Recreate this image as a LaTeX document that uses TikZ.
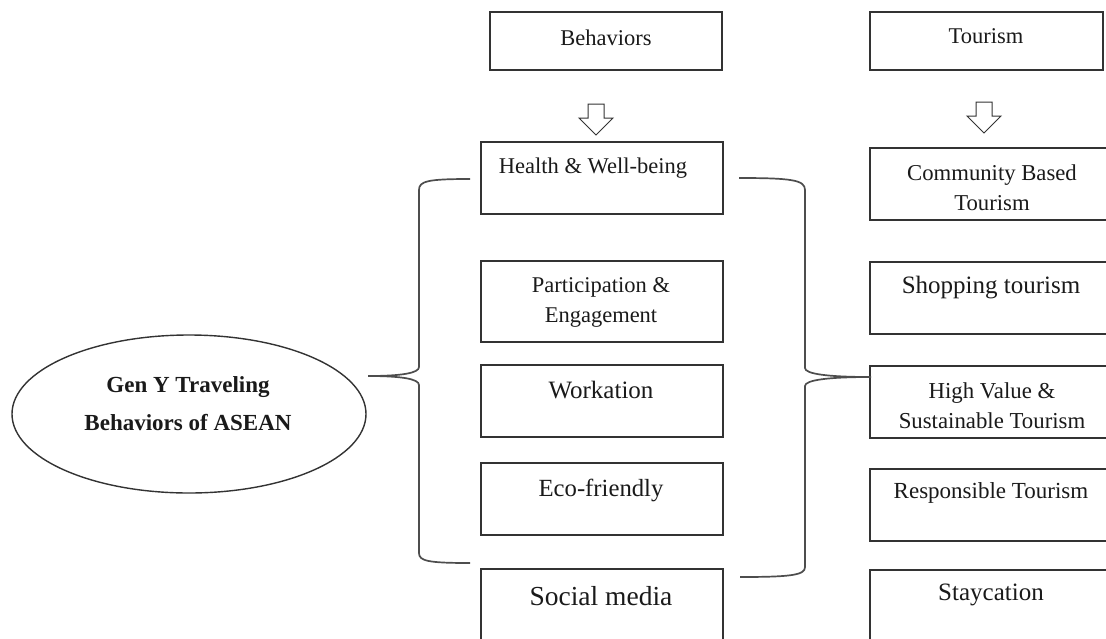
\documentclass[tikz,border=0pt]{standalone}
\usepackage{fontspec}
\setmainfont{Liberation Serif}
\usetikzlibrary{shapes.geometric}
\definecolor{boxcol}{HTML}{333333}
\definecolor{bracecol}{HTML}{4D4D4D}
\definecolor{txtcol}{HTML}{1A1A1A}
\newcommand\fsz[1]{\fontsize{#1}{30}\selectfont}
\begin{document}
\begin{tikzpicture}[x=1pt,y=-1pt,
  box/.style={draw=boxcol,line width=1.5pt,inner sep=0pt,outer sep=0pt,minimum width=242pt,minimum height=72pt},
  lbl/.style={text=txtcol,inner sep=0pt,align=center},
  bracket/.style={draw=bracecol,line width=1.7pt},
  downarrow/.pic={\draw[line width=1pt,draw=boxcol] (-8,0) -- (8,0) -- (8,14) -- (17,14) -- (0,31) -- (-17,14) -- (-8,14) -- cycle;}]
\useasboundingbox (0,0) rectangle (1106,638);
\clip (0,0) rectangle (1106,638);
\fill[white] (0,0) rectangle (1106,638);

% top headers
\node[box,minimum width=232pt,minimum height=58pt] (behav) at (606,41) {};
\node[lbl,font=\fsz{22.5}] (behavt) at (606,38) {Behaviors};
\node[box,minimum width=233pt,minimum height=58pt] (tour) at (986.5,41) {};
\node[lbl,font=\fsz{22.5}] (tourt) at (986,36) {Tourism};

% hollow arrows
\pic at (596,104) {downarrow};
\pic at (984,102) {downarrow};

% left column
\node[box] (health) at (602,178) {};
\node[lbl,font=\fsz{22.5}] (healtht) at (593,168) {Health \& Well-being};
\node[box,minimum height=81pt] (part) at (602,301.5) {};
\node[lbl,font=\fsz{22.5}] (partt) at (601,302) {Participation \&\\Engagement};
\node[box] (work) at (602,401) {};
\node[lbl,font=\fsz{25}] (workt) at (601,390) {Workation};
\node[box] (eco) at (602,499) {};
\node[lbl,font=\fsz{24.7}] (ecot) at (601,490) {Eco-friendly};
\node[box,minimum height=90pt] (social) at (602,614) {};
\node[lbl,font=\fsz{27.5}] (socialt) at (601,596) {Social media};

% right column
\node[box] (comm) at (991,184) {};
\node[lbl,font=\fsz{22.7}] (commt) at (992,188) {Community Based\\Tourism};
\node[box] (shop) at (991,298) {};
\node[lbl,font=\fsz{25}] (shopt) at (991,288) {Shopping tourism};
\node[box] (high) at (991,402) {};
\node[lbl,font=\fsz{22.8}] (hight) at (992,406) {High Value \&\\Sustainable Tourism};
\node[box] (resp) at (991,505) {};
\node[lbl,font=\fsz{23}] (respt) at (991,493) {Responsible Tourism};
\node[box,minimum height=90pt] (stay) at (991,615) {};
\node[lbl,font=\fsz{25}] (stayt) at (991,595) {Staycation};

% ellipse
\node[draw=boxcol,line width=1.4pt,ellipse,minimum width=354pt,minimum height=158pt,inner sep=0pt] (gen) at (189,414) {};
\node[lbl,font=\bfseries\fontsize{23}{38}\selectfont] (gent) at (188,404) {Gen Y Traveling\\Behaviors of ASEAN};

% left brace
\coordinate (lb1) at (470,179);
\coordinate (lbc) at (368,376);
\coordinate (lb2) at (470,563);
\draw[bracket] (lb1) .. controls (428,179) and (419,181) .. (419,190) -- (419,367)
  .. controls (419,373) and (402,376) .. (lbc)
  .. controls (402,376) and (419,379) .. (419,385) -- (419,553)
  .. controls (419,561) and (428,563) .. (lb2);

% right brace
\coordinate (rb1) at (739,178);
\coordinate (rbc) at (871,377);
\coordinate (rb2) at (740,577);
\draw[bracket] (rb1) .. controls (792,178) and (805,180) .. (805,190) -- (805,368)
  .. controls (805,374) and (828,377) .. (rbc)
  .. controls (828,377) and (805,380) .. (805,386) -- (805,567)
  .. controls (805,575) and (792,577) .. (rb2);
\end{tikzpicture}
\end{document}
